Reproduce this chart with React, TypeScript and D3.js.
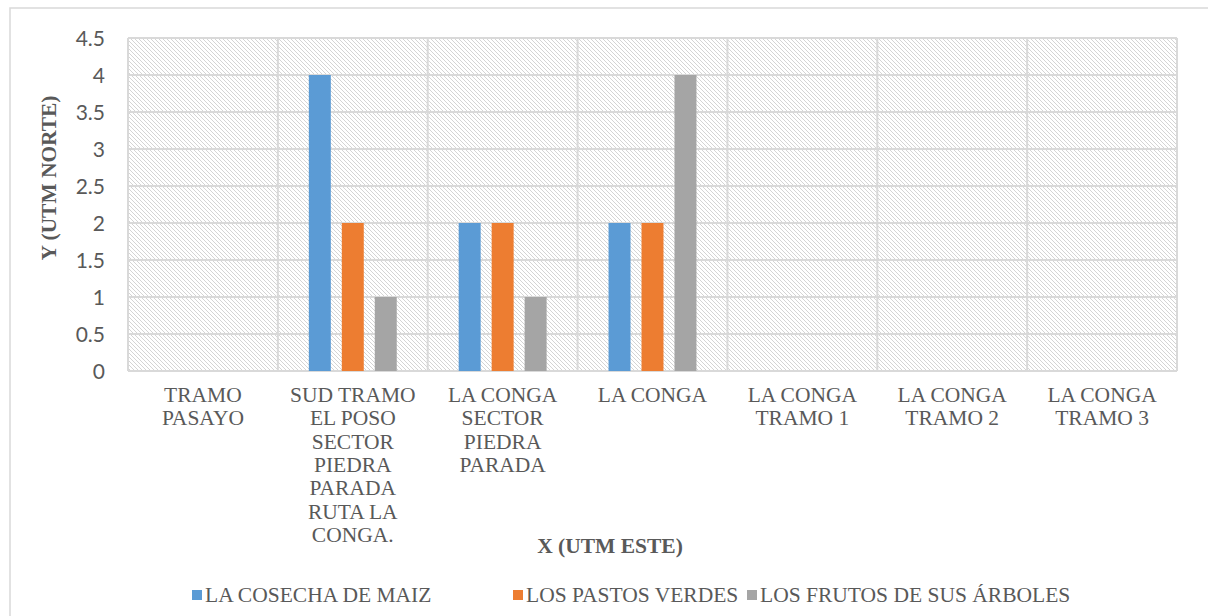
import React from "react";
import * as d3 from "d3";

const categories: string[][] = [
  ["TRAMO", "PASAYO"],
  ["SUD TRAMO", "EL POSO", "SECTOR", "PIEDRA", "PARADA", "RUTA LA", "CONGA."],
  ["LA CONGA", "SECTOR", "PIEDRA", "PARADA"],
  ["LA CONGA"],
  ["LA CONGA", "TRAMO 1"],
  ["LA CONGA", "TRAMO 2"],
  ["LA CONGA", "TRAMO 3"],
];
const seriesNames = ["LA COSECHA DE MAIZ", "LOS PASTOS VERDES", "LOS FRUTOS DE SUS ÁRBOLES"];
const cosecha = [0, 4, 2, 2, 0, 0, 0];
const pastos = [0, 2, 2, 2, 0, 0, 0];
const frutos = [0, 1, 1, 4, 0, 0, 0];
const yTicks = [0, 0.5, 1, 1.5, 2, 2.5, 3, 3.5, 4, 4.5];
const colors = ["#5b9bd5", "#ed7d31", "#a5a5a5"];

const SERIF = "Liberation Serif";
const SANS = "Lato";

export default function App() {
  const W = 1208, H = 616;
  const left = 128, right = 1177, top = 38, bottom = 371;
  const series = [cosecha, pastos, frutos];
  const x = d3.scaleBand<number>().domain(d3.range(categories.length)).range([left, right]).padding(0);
  const y = d3.scaleLinear().domain([0, 4.5]).range([bottom, top]);
  const bw = x.bandwidth() * 22 / 150;
  const step = bw * 1.5;
  const legendX = [192, 513, 747];
  return (
    <svg width={W} height={H} style={{ position: "absolute", left: 0, top: 0 }}>
      <defs>
        <pattern id="hatch" width="4" height="4" patternUnits="userSpaceOnUse">
          <rect width="4" height="4" fill="#fff" />
          {[0, 1, 2, 3].map((i) => (
            <rect key={i} x={i} y={i} width={1} height={1} fill="#d4d4d4" shapeRendering="crispEdges" />
          ))}
        </pattern>
      </defs>
      <rect x={0} y={0} width={W} height={H} fill="#fff" />
      <rect x={10} y={8} width={W + 10} height={H + 10} fill="#fff" stroke="#d9d9d9" strokeWidth={1.5} />
      <rect x={left} y={top} width={right - left} height={bottom - top} fill="url(#hatch)" />
      {yTicks.map((t) => (
        <line key={"g" + t} x1={left} x2={right} y1={y(t)} y2={y(t)} stroke="#d9d9d9" strokeWidth={2} />
      ))}
      {d3.range(categories.length + 1).map((i) => {
        const xx = i < categories.length ? (x(i) as number) : right;
        return <line key={"v" + i} x1={xx} x2={xx} y1={top} y2={bottom} stroke="#d9d9d9" strokeWidth={2} />;
      })}
      {series.map((vals, si) =>
        vals.map((v, ci) => {
          const cx = (x(ci) as number) + x.bandwidth() / 2 + (si - 1) * step;
          return v > 0 ? (
            <rect key={si + "-" + ci} x={cx - bw / 2} y={y(v)} width={bw} height={y(0) - y(v)} fill={colors[si]} />
          ) : null;
        })
      )}
      {yTicks.map((t) => (
        <text key={"t" + t} x={105} y={y(t) + 7.5} textAnchor="end" fontFamily={SANS} fontSize={21} fill="#595959">
          {String(t)}
        </text>
      ))}
      {categories.map((lines, ci) => (
        <text key={"c" + ci} textAnchor="middle" fontFamily={SERIF} fontSize={21.5} fill="#595959">
          {lines.map((ln, li) => (
            <tspan key={li} x={(x(ci) as number) + x.bandwidth() / 2} y={402 + li * 23.3}>
              {ln}
            </tspan>
          ))}
        </text>
      ))}
      <text x={610} y={553} textAnchor="middle" fontFamily={SERIF} fontWeight="bold" fontSize={21.5} fill="#595959">
        X (UTM ESTE)
      </text>
      <text transform="translate(56,178) rotate(-90)" textAnchor="middle" fontFamily={SERIF} fontWeight="bold" fontSize={21} fill="#595959" textLength={165} lengthAdjust="spacingAndGlyphs">
        Y (UTM NORTE)
      </text>
      {seriesNames.map((n, i) => (
        <g key={"l" + i}>
          <rect x={legendX[i]} y={590} width={10} height={10} fill={colors[i]} />
          <text x={legendX[i] + 13} y={602} fontFamily={SERIF} fontSize={21.5} fill="#595959">
            {n}
          </text>
        </g>
      ))}
    </svg>
  );
}
